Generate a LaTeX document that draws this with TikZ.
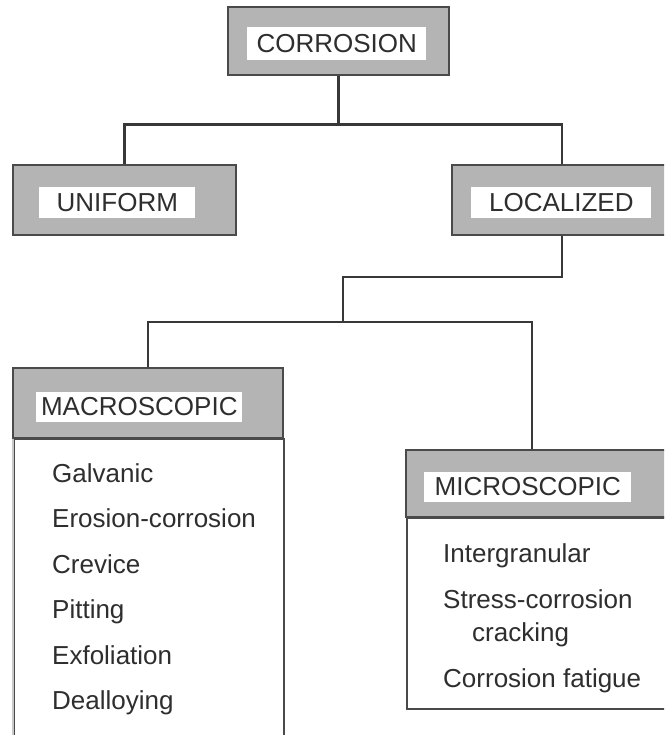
\documentclass[tikz,border=0pt]{standalone}
\usepackage{fontspec}
\setmainfont{Liberation Sans}
\usetikzlibrary{positioning}
\definecolor{boxgray}{HTML}{B4B4B4}
\definecolor{edgegray}{HTML}{4A4A4A}
\definecolor{paleedge}{HTML}{C8C8C8}
\definecolor{linkgray}{HTML}{383838}
\definecolor{textgray}{HTML}{2E2E2E}
\tikzset{
  header/.style={
    rectangle, inner sep=0pt,
    draw=edgegray, line width=1.8pt,
    fill=boxgray,
  },
  body/.style={
    rectangle, inner sep=0pt, anchor=north west,
    draw=edgegray, line width=1.8pt,
    fill=white,
  },
  tag/.style={
    rectangle, inner sep=0pt, anchor=west,
    fill=white, text=textgray,
    font=\fontsize{26}{30}\selectfont,
  },
  item/.style={
    inner sep=0pt, anchor=base west,
    text=textgray, font=\fontsize{26}{30}\selectfont,
  },
  link/.style={draw=linkgray, line width=2.8pt},
}
\begin{document}
\begin{tikzpicture}[x=1pt, y=-1pt]

  \clip (0,0) rectangle (664,735);
  \fill[white] (0,0) rectangle (664,735);

  % top level
  \node[header, minimum width=221pt, minimum height=68pt] (corrosion) at (338.5,41) {};
  \node[tag, minimum width=179pt, minimum height=33pt] (corrosiontag) at ([xshift=20pt, yshift=-2.5pt]corrosion.west) {CORROSION};

  \node[header, minimum width=223pt, minimum height=70pt] (uniform) at (124.5,200) {};
  \node[tag, minimum width=156pt, minimum height=31pt] (uniformtag) at ([xshift=27pt, yshift=-2.5pt]uniform.west) {UNIFORM};

  \node[header, minimum width=220pt, minimum height=70pt] (localized) at (562,200) {};
  \node[tag, minimum width=180pt, minimum height=31pt] (localizedtag) at ([xshift=20pt, yshift=-2.5pt]localized.west) {LOCALIZED};

  % macroscopic box
  \node[body, minimum width=270pt, minimum height=330pt] (macrobody) at (13,438) {};
  \draw[paleedge, line width=1.8pt] (macrobody.north west) -- (macrobody.south west);
  \node[header, minimum width=270pt, minimum height=70pt] (macro) at (148,403) {};
  \node[tag, minimum width=206pt, minimum height=30pt] (macrotag) at ([xshift=24pt, yshift=-4pt]macro.west) {MACROSCOPIC};

  \node[item] (galvanic) at ([xshift=39pt, yshift=-44pt]macrobody.north west) {Galvanic};
  \node[item, below=45.5pt of galvanic.base west, anchor=base west] (erosion) {Erosion-corrosion};
  \node[item, below=45.5pt of erosion.base west, anchor=base west] (crevice) {Crevice};
  \node[item, below=45.5pt of crevice.base west, anchor=base west] (pitting) {Pitting};
  \node[item, below=45.5pt of pitting.base west, anchor=base west] (exfoliation) {Exfoliation};
  \node[item, below=45.5pt of exfoliation.base west, anchor=base west] (dealloying) {Dealloying};

  % microscopic box
  \node[body, minimum width=266pt, minimum height=191pt] (microbody) at (406,517) {};
  \node[header, minimum width=266pt, minimum height=67pt] (micro) at (539,483.5) {};
  \node[tag, minimum width=207pt, minimum height=30pt] (microtag) at ([xshift=19pt, yshift=-3.5pt]micro.west) {MICROSCOPIC};

  \node[item] (intergranular) at ([xshift=37pt, yshift=-45pt]microbody.north west) {Intergranular};
  \node[item, below=46pt of intergranular.base west, anchor=base west] (stress) {Stress-corrosion};
  \node[item, below=33pt of stress.base west, anchor=base west, xshift=29pt] (cracking) {cracking};
  \node[item, below=79pt of stress.base west, anchor=base west] (fatigue) {Corrosion fatigue};

  % connectors
  \coordinate (bend) at (343,277);
  \coordinate (fork) at (343,322);
  \coordinate (microtop) at ([xshift=-7pt]micro.north);

  \draw[link] (corrosion.south) -- ++(0,49) -| (uniform.north);
  \draw[link] (corrosion.south) -- ++(0,49) -| (localized.north);
  \draw[link] (localized.south) |- (bend) -- (fork);
  \draw[link] (macro.north) |- (fork) -| (microtop);

\end{tikzpicture}
\end{document}
